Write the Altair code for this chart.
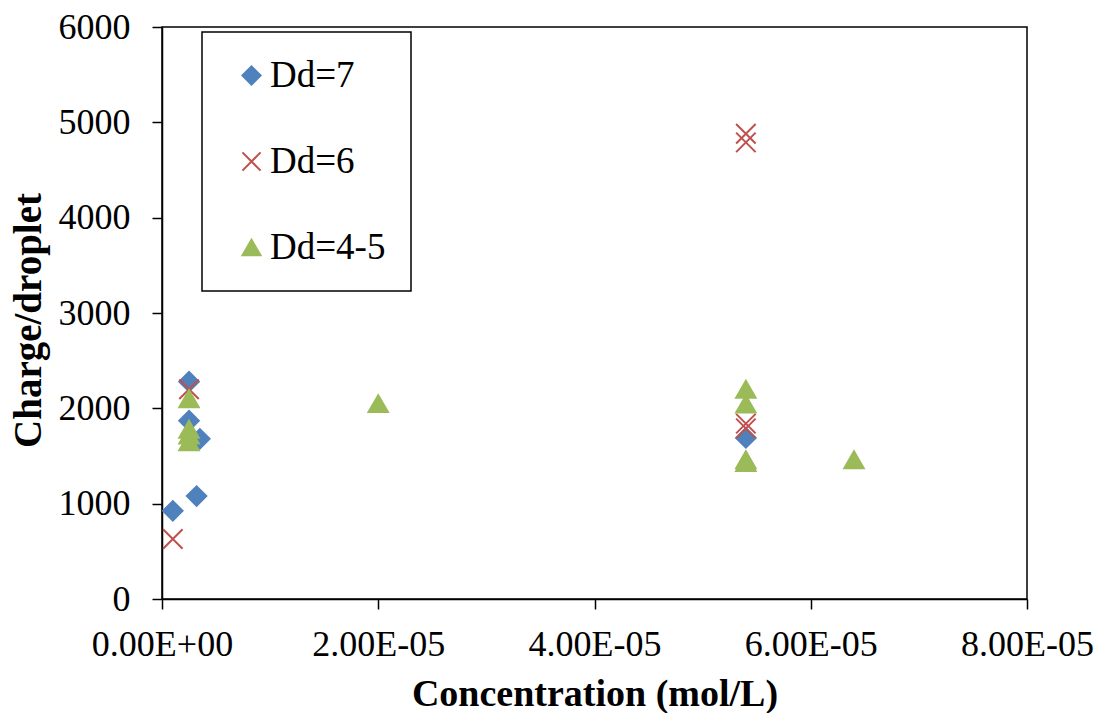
import altair as alt
import pandas as pd

# ---- data ----
series_names = ["Dd=7", "Dd=6", "Dd=4-5"]

dd7_conc = [1.0e-6, 2.5e-6, 2.5e-6, 3.5e-6, 3.2e-6, 5.4e-5]
dd7_charge = [925, 2280, 1870, 1680, 1080, 1690]

dd6_conc = [1.0e-6, 2.5e-6, 5.4e-5, 5.4e-5, 5.4e-5, 5.4e-5]
dd6_charge = [630, 2200, 4880, 4790, 1840, 1790]

dd45_conc = [2.5e-6, 2.5e-6, 2.5e-6, 2.5e-6, 2.0e-5, 5.4e-5, 5.4e-5, 5.4e-5, 5.4e-5, 6.4e-5]
dd45_charge = [2100, 1780, 1720, 1650, 2050, 2200, 2045, 1460, 1430, 1460]

x_tick_values = [0, 2e-5, 4e-5, 6e-5, 8e-5]
x_tick_labels = ["0.00E+00", "2.00E-05", "4.00E-05", "6.00E-05", "8.00E-05"]
y_tick_values = [0, 1000, 2000, 3000, 4000, 5000, 6000]

colors = ["#4F81BD", "#C0504D", "#9BBB59"]
shapes = ["diamond", "M-1,-1L1,1M-1,1L1,-1", "triangle-up"]

rows = []
for name, xs, ys in [
    (series_names[0], dd7_conc, dd7_charge),
    (series_names[1], dd6_conc, dd6_charge),
    (series_names[2], dd45_conc, dd45_charge),
]:
    for xv, yv in zip(xs, ys):
        rows.append({"series": name, "conc": xv, "charge": yv})
df = pd.DataFrame(rows)
df["order"] = df["series"].map({n: i for i, n in enumerate(series_names)})

label_expr = "[" + ",".join("'%s'" % s for s in x_tick_labels) + "][round(datum.value / 0.00002)]"

font = "Liberation Serif"
leg = alt.Legend(title=None, labelFont=font, labelFontSize=37,
                 labelExpr="datum.label + '\u00a0\u00a0'")

chart = (
    alt.Chart(df)
    .mark_point(filled=True, strokeWidth=2, opacity=1, size=380)
    .encode(
        x=alt.X(
            "conc:Q",
            scale=alt.Scale(domain=[0, 8e-5], nice=False, zero=False),
            axis=alt.Axis(
                title="Concentration (mol/L)",
                values=x_tick_values,
                labelExpr=label_expr,
                labelFlush=False,
                grid=False,
                tickSize=10,
                labelBaseline="alphabetic",
                labelPadding=46,
                labelFontSize=36,
                titleFontSize=38,
                titleY=106,
                titleBaseline="alphabetic",
            ),
        ),
        y=alt.Y(
            "charge:Q",
            scale=alt.Scale(domain=[0, 6000], nice=False),
            axis=alt.Axis(
                title="Charge/droplet",
                values=y_tick_values,
                format="d",
                grid=False,
                tickSize=10,
                labelPadding=22,
                labelFontSize=36,
                titleFontSize=39,
                titleX=-134,
                titleY=293,
                titleAlign="center",
                titleBaseline="middle",
                titleAngle=270,
            ),
        ),
        fill=alt.Fill("series:N", scale=alt.Scale(domain=series_names, range=colors), legend=leg),
        stroke=alt.Stroke("series:N", scale=alt.Scale(domain=series_names, range=colors), legend=leg),
        shape=alt.Shape("series:N", scale=alt.Scale(domain=series_names, range=shapes), legend=leg),
        order=alt.Order("order:Q"),
    )
    .properties(
        width=865,
        height=572,
        padding={"left": 162, "top": 27, "right": 72, "bottom": 114},
        autosize=alt.AutoSizeParams(type="none"),
        background="white",
    )
    .configure(font=font)
    .configure_view(stroke="black", strokeWidth=1.5)
    .configure_axis(
        domainColor="black",
        domainWidth=1.5,
        tickColor="black",
        tickWidth=1.5,
        labelColor="black",
        titleColor="black",
        labelFont=font,
        titleFont=font,
        titleFontWeight="bold",
    )
    .configure_legend(
        orient="none",
        legendX=40,
        legendY=5,
        strokeColor="black",
        strokeWidth=1.5,
        fillColor="white",
        padding=25,
        symbolOffset=6,
        rowPadding=48,
        labelFont=font,
        labelFontSize=37,
        labelColor="black",
        labelOffset=0,
        labelLimit=400,
        symbolSize=330,
        symbolStrokeWidth=2,
        cornerRadius=0,
    )
)

chart.save("out.html", embed_options={"renderer": "svg", "actions": False})
